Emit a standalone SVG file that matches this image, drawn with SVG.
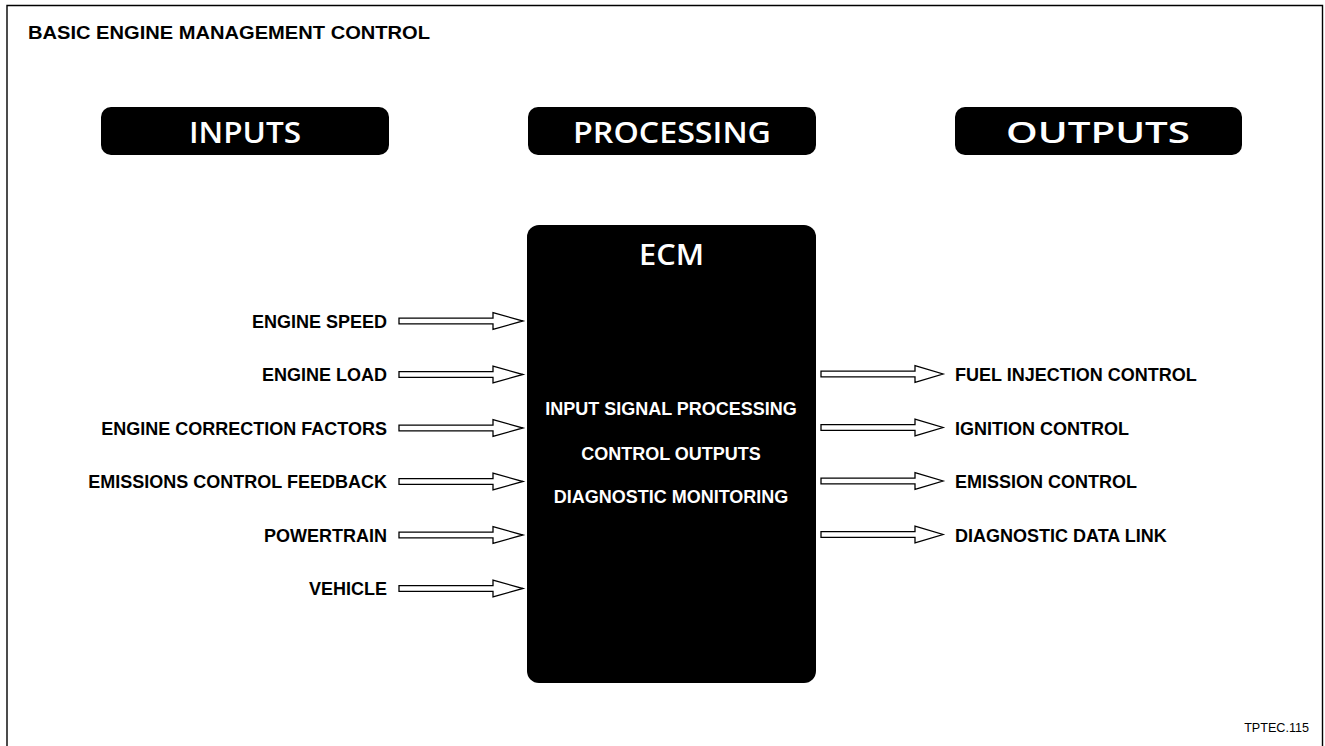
<svg xmlns="http://www.w3.org/2000/svg" width="1325" height="746" viewBox="0 0 1325 746">
<style>
.hdr{fill:#000}
.hdrtxt{fill:#fff;font-family:"Open Sans","Noto Sans",sans-serif;font-weight:600;font-size:28px;text-anchor:middle}
.lbl{fill:#000;font-family:"Liberation Sans",Arial,sans-serif;font-weight:bold;font-size:18px}
.in{text-anchor:end}
.ecmtxt{fill:#fff;font-family:"Liberation Sans",Arial,sans-serif;font-weight:bold;font-size:18px;text-anchor:middle}
.arr{fill:#fff;stroke:#000;stroke-width:1.3;stroke-linejoin:miter}
</style>
<defs>
<polygon id="inArrow" class="arr" points="399,-2.8 493,-2.8 493,-8.3 523,0 493,8.3 493,2.8 399,2.8"/>
<polygon id="outArrow" class="arr" points="821,-2.8 915,-2.8 915,-8.3 943,0 915,8.3 915,2.8 821,2.8"/>
</defs>
<rect x="0" y="0" width="1325" height="746" fill="#fff"/>
<path d="M7,760 V5.5 H1322.5 V760" fill="none" stroke="#000" stroke-width="1.4"/>
<text x="28" y="39" font-family="Liberation Sans, Arial, sans-serif" font-weight="bold" font-size="17.5" textLength="402" lengthAdjust="spacingAndGlyphs">BASIC ENGINE MANAGEMENT CONTROL</text>

<g id="inputs-header">
<rect class="hdr" x="101" y="107" width="288" height="48" rx="10"/>
<text class="hdrtxt" x="245" y="143" textLength="112" lengthAdjust="spacingAndGlyphs">INPUTS</text>
</g>
<g id="processing-header">
<rect class="hdr" x="528" y="107" width="288" height="48" rx="10"/>
<text class="hdrtxt" x="672" y="143" textLength="198" lengthAdjust="spacingAndGlyphs">PROCESSING</text>
</g>
<g id="outputs-header">
<rect class="hdr" x="955" y="107" width="287" height="48" rx="10"/>
<text class="hdrtxt" x="1098" y="143" textLength="184" lengthAdjust="spacingAndGlyphs">OUTPUTS</text>
</g>

<g id="ecm">
<rect x="527" y="225" width="289" height="458" rx="12" fill="#000"/>
<text class="hdrtxt" x="671.5" y="265" textLength="65" lengthAdjust="spacingAndGlyphs">ECM</text>
<text class="ecmtxt" x="671" y="415">INPUT SIGNAL PROCESSING</text>
<text class="ecmtxt" x="671" y="460">CONTROL OUTPUTS</text>
<text class="ecmtxt" x="671" y="503">DIAGNOSTIC MONITORING</text>
</g>

<g id="input-engine-speed"><text class="lbl in" x="387" y="328">ENGINE SPEED</text></g>
<g id="input-engine-load"><text class="lbl in" x="387" y="381">ENGINE LOAD</text></g>
<g id="input-correction"><text class="lbl in" x="387" y="435">ENGINE CORRECTION FACTORS</text></g>
<g id="input-emissions"><text class="lbl in" x="387" y="488">EMISSIONS CONTROL FEEDBACK</text></g>
<g id="input-powertrain"><text class="lbl in" x="387" y="541.5">POWERTRAIN</text></g>
<g id="input-vehicle"><text class="lbl in" x="387" y="595">VEHICLE</text></g>

<g id="output-fuel"><text class="lbl" x="955" y="381">FUEL INJECTION CONTROL</text></g>
<g id="output-ignition"><text class="lbl" x="955" y="434.5">IGNITION CONTROL</text></g>
<g id="output-emission"><text class="lbl" x="955" y="488">EMISSION CONTROL</text></g>
<g id="output-diag"><text class="lbl" x="955" y="541.5">DIAGNOSTIC DATA LINK</text></g>

<g id="connectors">
<use href="#inArrow" y="321"/>
<use href="#inArrow" y="374.5"/>
<use href="#inArrow" y="428"/>
<use href="#inArrow" y="481.5"/>
<use href="#inArrow" y="535"/>
<use href="#inArrow" y="588.5"/>
<use href="#outArrow" y="374"/>
<use href="#outArrow" y="427.5"/>
<use href="#outArrow" y="481"/>
<use href="#outArrow" y="534.5"/>
</g>

<text x="1309" y="732" text-anchor="end" font-family="Liberation Sans, Arial, sans-serif" font-size="12.6">TPTEC.115</text>
</svg>
